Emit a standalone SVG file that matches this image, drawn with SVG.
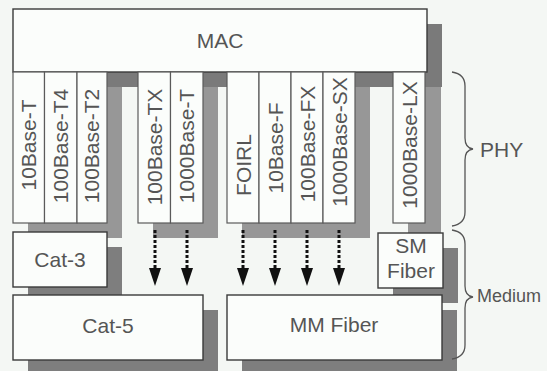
<svg xmlns="http://www.w3.org/2000/svg" width="547" height="371" viewBox="0 0 547 371">
  <style>
    .bg { fill: #f4f7f4; }
    .box { fill: #fbfdfb; stroke: #3a3a3a; stroke-width: 1.4; }
    .col { fill: #fbfdfb; stroke: #5a5a5a; stroke-width: 1.2; }
    .shM { fill: #7a7a7a; }
    .shP { fill: #979797; }
    .shB { fill: #7e7e7e; }
    .t { font-family: "Liberation Sans", Arial, sans-serif; font-size: 21px; fill: #555555; }
    .v { text-anchor: middle; }
    .c { text-anchor: middle; }
    .brace { fill: none; stroke: #555; stroke-width: 1.3; }
    .arr { stroke: #111; stroke-width: 3; stroke-dasharray: 3 2; marker-end: url(#ah); }
  </style>
  <defs>
    <marker id="ah" markerUnits="userSpaceOnUse" markerWidth="18" markerHeight="12" refX="0" refY="6" orient="auto" viewBox="0 0 18 12">
      <path d="M0,0 L18,6 L0,12 z" fill="#111"/>
    </marker>
  </defs>
  <rect class="bg" x="0" y="0" width="547" height="371"/>

  <g id="shadows">
    <rect class="shM" x="28" y="24" width="414" height="63"/>
    <rect class="shP" x="28" y="87" width="94" height="151"/>
    <rect class="shP" x="153" y="87" width="65" height="151"/>
    <rect class="shP" x="242" y="87" width="128" height="151"/>
    <rect class="shP" x="408" y="87" width="33" height="151"/>
    <rect class="shB" x="28" y="247" width="94" height="55"/>
    <rect class="shB" x="393" y="248" width="65" height="55"/>
    <rect class="shB" x="28" y="310" width="190" height="65"/>
    <rect class="shB" x="242" y="310" width="215" height="65"/>
  </g>

  <g id="mac">
    <rect class="box" x="13" y="9" width="414" height="63"/>
    <text class="t c" x="220" y="48">MAC</text>
  </g>

  <g id="phy-10Base-T">
    <rect class="col" x="13" y="72" width="31.5" height="151"/>
    <text class="t v" transform="translate(35.5,145) rotate(-90)">10Base-T</text>
  </g>
  <g id="phy-100Base-T4">
    <rect class="col" x="44.5" y="72" width="32.5" height="151"/>
    <text class="t v" transform="translate(67.5,146) rotate(-90)">100Base-T4</text>
  </g>
  <g id="phy-100Base-T2">
    <rect class="col" x="77" y="72" width="30" height="151"/>
    <text class="t v" transform="translate(99,146) rotate(-90)">100Base-T2</text>
  </g>
  <g id="phy-100Base-TX">
    <rect class="col" x="138" y="72" width="32.5" height="151"/>
    <text class="t v" transform="translate(161.5,147) rotate(-90)">100Base-TX</text>
  </g>
  <g id="phy-1000Base-T">
    <rect class="col" x="170.5" y="72" width="32.5" height="151"/>
    <text class="t v" transform="translate(194,146) rotate(-90)">1000Base-T</text>
  </g>
  <g id="phy-FOIRL">
    <rect class="col" x="227" y="72" width="32" height="151"/>
    <text class="t v" transform="translate(250.5,165) rotate(-90)">FOIRL</text>
  </g>
  <g id="phy-10Base-F">
    <rect class="col" x="259" y="72" width="32" height="151"/>
    <text class="t v" transform="translate(282.5,148) rotate(-90)">10Base-F</text>
  </g>
  <g id="phy-100Base-FX">
    <rect class="col" x="291" y="72" width="32" height="151"/>
    <text class="t v" transform="translate(314.5,144) rotate(-90)">100Base-FX</text>
  </g>
  <g id="phy-1000Base-SX">
    <rect class="col" x="323" y="72" width="32" height="151"/>
    <text class="t v" transform="translate(346.5,142) rotate(-90)">1000Base-SX</text>
  </g>
  <g id="phy-1000Base-LX">
    <rect class="col" x="393" y="72" width="32" height="151"/>
    <text class="t v" transform="translate(416.5,145) rotate(-90)">1000Base-LX</text>
  </g>

  <g id="cat3">
    <rect class="box" x="13" y="232" width="94" height="55"/>
    <text class="t c" x="60" y="267">Cat-3</text>
  </g>
  <g id="smfiber">
    <rect class="box" x="378" y="233" width="65" height="55"/>
    <text class="t c" x="411" y="253">SM</text>
    <text class="t c" x="411" y="278">Fiber</text>
  </g>
  <g id="cat5">
    <rect class="box" x="13" y="295" width="190" height="65"/>
    <text class="t c" x="108" y="333">Cat-5</text>
  </g>
  <g id="mmfiber">
    <rect class="box" x="227" y="295" width="215" height="65"/>
    <text class="t c" x="334" y="332">MM Fiber</text>
  </g>

  <g id="connectors">
    <line class="arr" x1="155" y1="230" x2="155" y2="268"/>
    <line class="arr" x1="187" y1="230" x2="187" y2="268"/>
    <line class="arr" x1="243" y1="230" x2="243" y2="268"/>
    <line class="arr" x1="275" y1="230" x2="275" y2="268"/>
    <line class="arr" x1="307" y1="230" x2="307" y2="268"/>
    <line class="arr" x1="339" y1="230" x2="339" y2="268"/>
  </g>

  <g id="phy-brace">
    <path class="brace" d="M452,72 Q465,74 465,86 L465,138 Q465,148 473,149 Q465,150 465,160 L465,212 Q465,224 452,226"/>
    <text class="t" x="480" y="157">PHY</text>
  </g>
  <g id="medium-brace">
    <path class="brace" d="M452,230 Q465,232 465,244 L465,286 Q465,296 473,297 Q465,298 465,308 L465,345 Q465,357 452,359"/>
    <text class="t" x="477" y="302" style="font-size:18px">Medium</text>
  </g>
</svg>
